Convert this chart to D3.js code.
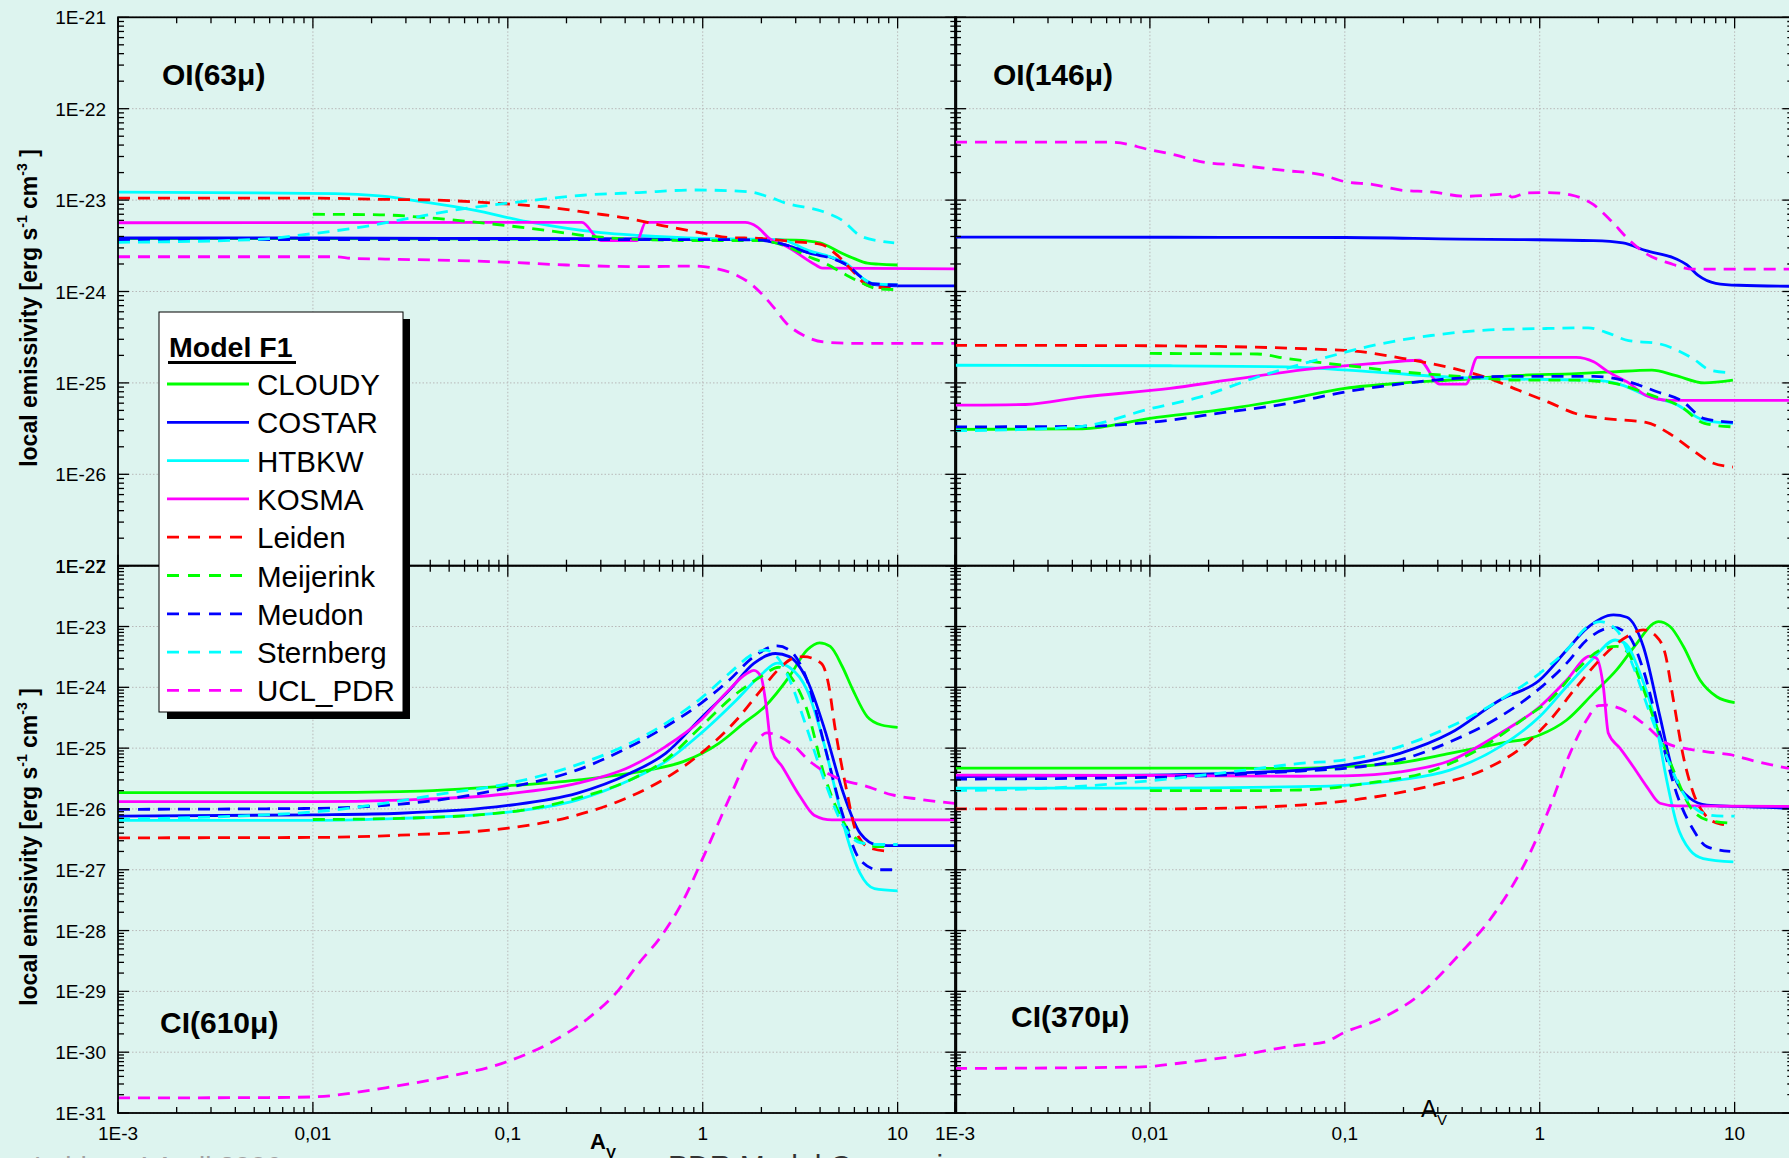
<!DOCTYPE html>
<html>
<head>
<meta charset="utf-8">
<script src="https://cdn.jsdelivr.net/npm/d3@7"></script>
<style>
  body { margin: 0; background: #ddf4ef; overflow: hidden; }
  svg { display: block; }
</style>
</head>
<body>
<div id="chart"></div>
<script>
// model list and line styles (legend order)
const models = ["CLOUDY", "COSTAR", "HTBKW", "KOSMA", "Leiden", "Meijerink", "Meudon", "Sternberg", "UCL_PDR"]
const modelColors = ["#00ff00", "#0000ff", "#00ffff", "#ff00ff", "#ff0000", "#00ff00", "#0000ff", "#00ffff", "#ff00ff"]
const modelDashed = [false, false, false, false, true, true, true, true, true]

// tick labels
const xTickValues = [1e-3, 1e-2, 1e-1, 1, 10]
const xTickLabels = ["1E-3", "0,01", "0,1", "1", "10"]
const yTopValues = [1e-27, 1e-26, 1e-25, 1e-24, 1e-23, 1e-22, 1e-21]
const yTopLabels = ["1E-27", "1E-26", "1E-25", "1E-24", "1E-23", "1E-22", "1E-21"]
const yBottomValues = [1e-31, 1e-30, 1e-29, 1e-28, 1e-27, 1e-26, 1e-25, 1e-24, 1e-23, 1e-22]
const yBottomLabels = ["1E-31", "1E-30", "1E-29", "1E-28", "1E-27", "1E-26", "1E-25", "1E-24", "1E-23", "1E-22"]

// OI 63 micron: [A_V, emissivity] per model
const oi63 = [
  [[0.001,3.8e-24],[0.01,3.8e-24],[0.1,3.75e-24],[1,3.7e-24],[2,3.7e-24],[3,3.65e-24],[4,3.4e-24],[5,2.72e-24],[6,2.29e-24],[7,2.04e-24],[8,1.99e-24],[10,1.95e-24]],
  [[0.001,3.85e-24],[0.01,3.85e-24],[0.1,3.8e-24],[1,3.75e-24],[1.8,3.7e-24],[2.7,3.2e-24],[3.6,2.6e-24],[4.6,2.35e-24],[5.5,1.95e-24],[6.6,1.39e-24],[7.4,1.2e-24],[10,1.15e-24],[20,1.15e-24]],
  [[0.001,1.22e-23],[0.005,1.2e-23],[0.013,1.18e-23],[0.022,1.11e-23],[0.04,9.3e-24],[0.066,7.8e-24],[0.126,5.8e-24],[0.3,4.4e-24],[0.47,4.1e-24],[1,3.8e-24],[2.5,3.7e-24],[3.5,2.8e-24],[4.5,2.4e-24],[5.5,2.0e-24],[6.6,1.4e-24],[7.5,1.22e-24],[10,1.18e-24]],
  [[0.001,5.65e-24],[0.24,5.7e-24],[0.3,3.6e-24],[0.46,3.6e-24],[0.51,5.7e-24],[1.65,5.7e-24],[1.9,5.1e-24],[2.2,3.8e-24],[2.7,3.1e-24],[3.8,1.95e-24],[4.1,1.8e-24],[20,1.77e-24]],
  [[0.001,1.05e-23],[0.01,1.05e-23],[0.022,1.02e-23],[0.043,1.0e-23],[0.082,9.3e-24],[0.165,8.3e-24],[0.27,7.2e-24],[0.4,6.4e-24],[0.64,5.2e-24],[1.03,4.3e-24],[1.35,3.9e-24],[2,3.8e-24],[3,3.5e-24],[4,3.3e-24],[5,2.4e-24],[6,1.6e-24],[7,1.17e-24],[10,1.07e-24]],
  [[0.01,7.0e-24],[0.022,6.9e-24],[0.043,6.3e-24],[0.082,5.5e-24],[0.165,4.6e-24],[0.27,4.0e-24],[0.5,3.7e-24],[1,3.6e-24],[2,3.6e-24],[2.7,3.1e-24],[3.5,2.4e-24],[4.1,2.1e-24],[5.5,1.5e-24],[6.6,1.23e-24],[7.9,1.07e-24],[10,1.05e-24]],
  [[0.001,3.7e-24],[0.01,3.7e-24],[0.1,3.7e-24],[1,3.7e-24],[2,3.65e-24],[2.7,3.2e-24],[3.6,2.6e-24],[4.6,2.3e-24],[5.5,1.95e-24],[6.6,1.4e-24],[7.4,1.22e-24],[10,1.18e-24]],
  [[0.001,3.45e-24],[0.005,3.7e-24],[0.01,4.3e-24],[0.018,5.1e-24],[0.031,6.3e-24],[0.054,7.8e-24],[0.126,9.8e-24],[0.243,1.13e-23],[0.47,1.21e-23],[0.91,1.29e-23],[1.75,1.23e-23],[2.16,1.09e-23],[2.7,9.2e-24],[4.17,7.45e-24],[5.2,6.0e-24],[6.4,4.1e-24],[8.2,3.55e-24],[9.6,3.4e-24]],
  [[0.001,2.4e-24],[0.013,2.4e-24],[0.016,2.3e-24],[0.022,2.27e-24],[0.1,2.09e-24],[0.2,1.95e-24],[0.47,1.87e-24],[0.91,1.9e-24],[1.1,1.83e-24],[1.5,1.5e-24],[1.75,1.23e-24],[2.0,9.5e-25],[2.3,6.8e-25],[2.7,4.45e-25],[3.3,3.3e-25],[4.2,2.8e-25],[6.4,2.7e-25],[20,2.7e-25]]
]

// OI 146 micron
const oi146 = [
  [[0.001,3.1e-26],[0.0045,3.15e-26],[0.01,4.1e-26],[0.025,5.2e-26],[0.05,6.6e-26],[0.1,8.7e-26],[0.2,1.0e-25],[0.39,1.09e-25],[0.78,1.21e-25],[1.54,1.26e-25],[2.33,1.32e-25],[3.76,1.38e-25],[4.95,1.21e-25],[7,1.0e-25],[9.8,1.07e-25]],
  [[0.001,3.94e-24],[0.0127,3.92e-24],[0.1,3.9e-24],[0.39,3.75e-24],[0.78,3.7e-24],[1.89,3.6e-24],[2.67,3.4e-24],[3.51,2.8e-24],[4.95,2.3e-24],[5.7,1.95e-24],[6.5,1.5e-24],[8,1.23e-24],[10.5,1.17e-24],[20,1.14e-24]],
  [[0.001,1.56e-25],[0.0127,1.54e-25],[0.05,1.5e-25],[0.14,1.32e-25],[0.39,1.14e-25],[0.78,1.1e-25],[1.89,1.07e-25],[2.67,9.4e-26],[3.51,7.3e-26],[4.95,5.9e-26],[7,3.9e-26],[9.8,3.6e-26]],
  [[0.001,5.7e-26],[0.0023,5.8e-26],[0.0045,7.0e-26],[0.0127,8.7e-26],[0.025,1.07e-25],[0.071,1.44e-25],[0.14,1.63e-25],[0.241,1.77e-25],[0.307,9.7e-26],[0.418,9.7e-26],[0.479,1.9e-25],[1.54,1.9e-25],[1.89,1.7e-25],[2.25,1.32e-25],[2.86,1.0e-25],[3.51,7.3e-26],[4.62,6.45e-26],[20,6.45e-26]],
  [[0.001,2.58e-25],[0.01,2.55e-25],[0.1,2.27e-25],[0.197,1.86e-25],[0.39,1.38e-25],[0.55,1.12e-25],[0.78,8.3e-26],[1.1,6.2e-26],[1.54,4.6e-26],[2.17,4.07e-26],[3.51,3.7e-26],[4.62,2.8e-26],[6.1,1.83e-26],[7.5,1.36e-26],[9.8,1.2e-26]],
  [[0.01,2.1e-25],[0.0356,2.07e-25],[0.05,1.85e-25],[0.1,1.56e-25],[0.197,1.32e-25],[0.39,1.18e-25],[0.78,1.07e-25],[1.54,1.07e-25],[2.33,1.0e-25],[3.76,7.3e-26],[5.3,5.5e-26],[7,3.6e-26],[9.8,3.3e-26]],
  [[0.001,3.3e-26],[0.0045,3.35e-26],[0.01,3.7e-26],[0.025,4.8e-26],[0.05,5.9e-26],[0.1,7.95e-26],[0.197,9.8e-26],[0.39,1.13e-25],[0.78,1.18e-25],[1.89,1.18e-25],[2.86,1.03e-25],[4.03,7.95e-26],[5.3,6.45e-26],[7,4.07e-26],[9.8,3.7e-26]],
  [[0.001,3.0e-26],[0.0023,3.1e-26],[0.0045,3.35e-26],[0.01,5.2e-26],[0.018,7.0e-26],[0.0356,1.16e-25],[0.071,1.77e-25],[0.14,2.57e-25],[0.277,3.3e-25],[0.55,3.8e-25],[1.1,3.94e-25],[1.77,4.0e-25],[2.17,3.6e-25],[2.86,2.9e-25],[4.03,2.7e-25],[6.1,1.85e-25],[7.5,1.38e-25],[9.8,1.29e-25]],
  [[0.001,4.3e-23],[0.0064,4.3e-23],[0.01,3.55e-23],[0.0136,3.1e-23],[0.0179,2.65e-23],[0.0289,2.4e-23],[0.05,2.1e-23],[0.0756,1.9e-23],[0.099,1.6e-23],[0.14,1.48e-23],[0.197,1.28e-23],[0.277,1.23e-23],[0.418,1.1e-23],[0.552,1.13e-23],[0.68,1.17e-23],[0.72,1.08e-23],[0.86,1.2e-23],[1.1,1.21e-23],[1.44,1.14e-23],[1.89,8.9e-24],[2.33,5.9e-24],[2.86,3.7e-24],[3.51,2.6e-24],[4.62,2.04e-24],[6.1,1.76e-24],[20,1.76e-24]]
]

// CI 610 micron
const ci610 = [
  [[0.001,1.85e-26],[0.01,1.85e-26],[0.028,1.92e-26],[0.1,2.4e-26],[0.226,2.98e-26],[0.523,4.35e-26],[0.794,6.0e-26],[1.21,1.2e-25],[1.62,2.55e-25],[2.08,4.8e-25],[2.78,1.5e-24],[3.43,4.1e-24],[3.97,5.4e-24],[4.51,4.7e-24],[5.2,2.2e-24],[5.9,9.0e-25],[6.98,3.3e-25],[8.26,2.4e-25],[10,2.2e-25]],
  [[0.001,7.6e-27],[0.01,8.0e-27],[0.028,8.5e-27],[0.098,1.13e-26],[0.226,1.8e-26],[0.424,3.85e-26],[0.645,8.2e-26],[0.979,3.1e-25],[1.37,9.0e-25],[1.83,2.48e-24],[2.36,3.6e-24],[2.78,3.2e-24],[3.43,1.32e-24],[4.23,2.0e-25],[5.2,2.05e-26],[6.42,4.0e-27],[7.92,2.55e-27],[10,2.5e-27],[20,2.5e-27]],
  [[0.001,6.5e-27],[0.01,6.5e-27],[0.028,7.0e-27],[0.098,8.8e-27],[0.226,1.4e-26],[0.424,3.0e-26],[0.645,6.0e-26],[0.979,1.75e-25],[1.49,6.2e-25],[1.99,1.6e-24],[2.41,2.5e-24],[2.78,2.14e-24],[3.43,9.0e-25],[4.23,1.06e-25],[4.79,2.05e-26],[5.43,4.0e-27],[6.42,8.7e-28],[7.6,4.9e-28],[10,4.5e-28]],
  [[0.001,1.32e-26],[0.01,1.32e-26],[0.028,1.4e-26],[0.098,1.76e-26],[0.226,2.63e-26],[0.424,4.95e-26],[0.645,1.06e-25],[0.979,2.9e-25],[1.31,7.95e-25],[1.69,1.7e-24],[1.83,1.9e-24],[1.99,1.5e-24],[2.12,4.8e-25],[2.26,9.3e-26],[2.56,4.95e-26],[3.16,1.6e-26],[3.73,7.9e-27],[4.6,6.6e-27],[20,6.6e-27]],
  [[0.001,3.35e-27],[0.01,3.4e-27],[0.028,3.7e-27],[0.098,4.8e-27],[0.226,7.9e-27],[0.424,1.6e-26],[0.645,3.2e-26],[0.979,8.2e-26],[1.49,2.9e-25],[1.99,9.0e-25],[2.46,2.0e-24],[2.9,3.0e-24],[3.29,3.2e-24],[4.06,2.48e-24],[4.41,1.17e-24],[4.79,2.0e-25],[5.43,2.3e-26],[6.16,4.0e-27],[7.28,2.25e-27],[9.37,2.0e-27]],
  [[0.01,6.7e-27],[0.028,7.0e-27],[0.098,8.8e-27],[0.226,1.5e-26],[0.424,3.0e-26],[0.645,6.4e-26],[0.979,2.25e-25],[1.49,7.9e-25],[1.99,1.5e-24],[2.46,2.14e-24],[2.78,1.6e-24],[3.43,4.25e-25],[4.23,3.4e-26],[5.2,6.6e-27],[6.42,2.9e-27],[7.92,2.4e-27],[9.37,2.4e-27]],
  [[0.001,9.85e-27],[0.01,1.02e-26],[0.0236,1.15e-26],[0.044,1.4e-26],[0.098,2.2e-26],[0.226,4.35e-26],[0.424,1.06e-25],[0.645,2.25e-25],[0.979,5.45e-25],[1.37,1.32e-24],[1.83,3.2e-24],[2.41,4.8e-24],[2.78,4.1e-24],[3.43,1.32e-24],[4.23,1.06e-25],[5.2,8.5e-27],[6.42,1.45e-27],[7.92,1.0e-27],[9.37,1.0e-27]],
  [[0.001,6.8e-27],[0.01,8.9e-27],[0.0236,1.25e-26],[0.044,1.73e-26],[0.098,2.57e-26],[0.226,5.3e-26],[0.424,1.2e-25],[0.645,2.55e-25],[0.979,6.6e-25],[1.37,1.7e-24],[1.83,3.6e-24],[2.08,4.1e-24],[2.4,3.2e-24],[2.8,1.3e-24],[3.4,2.25e-25],[4.2,3.0e-26],[5.2,5.7e-27],[6.4,2.8e-27],[7.9,2.6e-27],[10,2.6e-27]],
  [[0.001,1.77e-31],[0.0066,1.8e-31],[0.01,1.84e-31],[0.0236,2.6e-31],[0.044,3.7e-31],[0.098,6.9e-31],[0.176,1.6e-30],[0.264,3.8e-30],[0.37,1.05e-29],[0.47,2.9e-29],[0.6,7.4e-29],[0.78,2.8e-28],[1.03,1.9e-27],[1.41,1.85e-26],[1.82,1.05e-25],[2.13,1.78e-25],[2.83,1.2e-25],[3.63,5.7e-26],[4.97,3.15e-26],[6.8,2.4e-26],[9.4,1.7e-26],[12.8,1.45e-26],[19.6,1.23e-26]]
]

// CI 370 micron
const ci370 = [
  [[0.001,4.7e-26],[0.01,4.7e-26],[0.059,4.65e-26],[0.1,4.95e-26],[0.192,5.75e-26],[0.346,8.2e-26],[0.626,1.2e-25],[1,1.64e-25],[1.376,2.9e-25],[1.885,7.95e-25],[2.48,1.93e-24],[3.15,5.3e-24],[3.83,1.12e-23],[4.06,1.2e-23],[4.66,1.0e-23],[5.46,4.7e-24],[6.64,1.32e-24],[8.1,7.0e-25],[10,5.6e-25]],
  [[0.001,3.4e-26],[0.01,3.6e-26],[0.059,4.36e-26],[0.1,5.25e-26],[0.192,8.2e-26],[0.346,1.75e-25],[0.626,6.2e-25],[1,1.32e-24],[1.376,4.1e-24],[1.742,9.3e-24],[2.39,1.55e-23],[2.8,1.42e-23],[3.4,4.7e-24],[4.14,3.3e-25],[4.85,3.85e-26],[5.9,1.5e-26],[7.2,1.16e-26],[10,1.1e-26],[20,1.03e-26]],
  [[0.001,2.2e-26],[0.01,2.2e-26],[0.059,2.33e-26],[0.1,2.45e-26],[0.192,3.0e-26],[0.346,4.36e-26],[0.626,1.06e-25],[1,3.3e-25],[1.376,1.03e-24],[1.885,3.0e-24],[2.44,6.0e-24],[2.74,5.3e-24],[3.27,1.7e-24],[3.98,2.24e-25],[4.48,3.0e-26],[5.04,5.75e-27],[5.9,2.1e-27],[6.9,1.53e-27],[9.85,1.35e-27]],
  [[0.001,3.6e-26],[0.01,3.55e-26],[0.059,3.45e-26],[0.1,3.5e-26],[0.192,4.07e-26],[0.346,6.2e-26],[0.626,1.75e-25],[1,4.8e-25],[1.376,1.32e-24],[1.81,3.27e-24],[1.96,3.0e-24],[2.12,1.03e-24],[2.25,1.75e-25],[2.58,1.0e-25],[3.02,4.95e-26],[3.54,2.33e-26],[4.14,1.24e-26],[5.04,1.12e-26],[20,1.1e-26]],
  [[0.001,1.0e-26],[0.01,1.0e-26],[0.03,1.05e-26],[0.059,1.16e-26],[0.129,1.5e-26],[0.285,2.47e-26],[0.514,4.36e-26],[0.858,1.2e-25],[1.13,2.9e-25],[1.55,1.03e-24],[1.96,2.5e-24],[2.39,4.7e-24],[2.9,7.25e-24],[3.4,8.8e-24],[3.98,6.8e-24],[4.4,3.6e-24],[4.85,6.2e-25],[5.46,7.2e-26],[6.15,1.8e-26],[7.2,7.4e-27],[8.4,5.7e-27],[9.65,5.4e-27]],
  [[0.01,2.0e-26],[0.03,2.0e-26],[0.059,2.05e-26],[0.129,2.63e-26],[0.285,4.36e-26],[0.514,1.06e-25],[0.858,3.3e-25],[1.13,6.2e-25],[1.55,1.93e-24],[2.04,4.1e-24],[2.48,4.7e-24],[2.8,3.9e-24],[3.27,1.32e-24],[3.98,2.24e-25],[4.85,4.36e-26],[5.9,1.1e-26],[7.2,6.6e-27],[9.85,5.8e-27]],
  [[0.001,3.1e-26],[0.01,3.3e-26],[0.059,4.2e-26],[0.1,4.65e-26],[0.192,6.4e-26],[0.346,1.27e-25],[0.626,3.3e-25],[1,9.6e-25],[1.376,2.5e-24],[1.742,6.0e-24],[2.39,9.7e-24],[2.85,7.2e-24],[3.4,1.93e-24],[4.14,1.75e-25],[5.04,1.8e-26],[6.15,4.5e-27],[7.2,2.4e-27],[9.5,2.0e-27]],
  [[0.001,2.0e-26],[0.003,2.2e-26],[0.01,2.9e-26],[0.03,4.3e-26],[0.059,5.6e-26],[0.1,6.4e-26],[0.192,1.06e-25],[0.346,2.24e-25],[0.626,6.2e-25],[1,1.7e-24],[1.376,4.1e-24],[1.742,9.7e-24],[2.04,1.2e-23],[2.48,8.8e-24],[3.02,2.2e-24],[3.68,3.7e-25],[4.48,7.2e-26],[5.46,1.8e-26],[6.64,9.0e-27],[8.1,7.7e-27],[10,7.6e-27]],
  [[0.001,5.4e-31],[0.0087,5.7e-31],[0.0148,6.7e-31],[0.029,8.9e-31],[0.057,1.3e-30],[0.079,1.47e-30],[0.099,2.1e-30],[0.154,3.6e-30],[0.248,9.4e-30],[0.32,2.1e-29],[0.42,5.4e-29],[0.52,1.15e-28],[0.61,2.3e-28],[0.89,1.86e-27],[1.13,1.1e-26],[1.43,8.2e-26],[1.74,2.9e-25],[2.0,5.0e-25],[2.2,5.1e-25],[2.58,4.5e-25],[3.4,2.55e-25],[4.48,1.2e-25],[5.46,1.0e-25],[7.2,8.7e-26],[9.5,7.8e-26],[13,6.0e-26],[19,4.65e-26]]
]

const W = 1789, H = 1158
const FONT = "'Liberation Sans', Arial, sans-serif"

const svg = d3.select('#chart')
  .append('svg')
  .attr('width', W)
  .attr('height', H)
  .style('background-color', '#ddf4ef')
  .style('font-family', FONT)

// column / row pixel ranges
const colRange = [[118, 956.3], [955, 1793.3]]
const rowRange = [[565.7, 17.3], [1113, 565.7]]
const rowDomain = [[1e-27, 1e-21], [1e-31, 1e-22]]

const panels = [
  { series: oi63, name: 'OI(63μ)', col: 0, row: 0, lx: 162, ly: 85 },
  { series: oi146, name: 'OI(146μ)', col: 1, row: 0, lx: 993, ly: 85 },
  { series: ci610, name: 'CI(610μ)', col: 0, row: 1, lx: 160, ly: 1033 },
  { series: ci370, name: 'CI(370μ)', col: 1, row: 1, lx: 1011, ly: 1027 },
]

const isDecade = (v) => Math.abs(Math.log10(v) - Math.round(Math.log10(v))) < 1e-6

panels.forEach((p, pi) => {
  const [x0, x1] = colRange[p.col]
  const [y0, y1] = rowRange[p.row]
  const x = d3.scaleLog().domain([1e-3, 20]).range([x0, x1])
  const y = d3.scaleLog().domain(rowDomain[p.row]).range([y0, y1])
  const g = svg.append('g')

  g.append('clipPath').attr('id', 'clip' + pi)
    .append('rect').attr('x', x0).attr('y', y1).attr('width', x1 - x0).attr('height', y0 - y1)

  const xt = x.ticks(60)
  const yt = y.ticks(90)

  // dotted grid at decades
  g.selectAll('.gx').data(xt.filter((v) => isDecade(v) && v > 1e-3)).enter()
    .append('line')
    .attr('x1', (d) => x(d)).attr('x2', (d) => x(d))
    .attr('y1', y1).attr('y2', y0)
    .attr('stroke', '#b8b8b8').attr('stroke-width', 1).attr('stroke-dasharray', '1.5,2')
  g.selectAll('.gy').data(yt.filter((v) => isDecade(v))).enter()
    .append('line')
    .attr('y1', (d) => y(d)).attr('y2', (d) => y(d))
    .attr('x1', x0).attr('x2', x1)
    .attr('stroke', '#b8b8b8').attr('stroke-width', 1).attr('stroke-dasharray', '1.5,2')

  // curves
  const line = d3.line()
    .x((d) => x(d[0]))
    .y((d) => y(d[1]))
    .curve(d3.curveMonotoneX)

  const curves = g.append('g').attr('clip-path', `url(#clip${pi})`)
  p.series.forEach((s, i) => {
    curves.append('path')
      .attr('d', line(s))
      .attr('fill', 'none')
      .attr('stroke', modelColors[i])
      .attr('stroke-width', 2.8)
      .attr('stroke-dasharray', modelDashed[i] ? '12,8' : null)
      .attr('stroke-linejoin', 'round')
  })

  // frame
  g.append('rect')
    .attr('x', x0).attr('y', y1).attr('width', x1 - x0).attr('height', y0 - y1)
    .attr('fill', 'none').attr('stroke', '#000').attr('stroke-width', 1.8)

  // inward ticks on all four sides
  const ticks = g.append('g').attr('stroke', '#000').attr('stroke-width', 1.3)
  xt.forEach((v) => {
    const len = isDecade(v) ? 11 : 6
    ticks.append('line').attr('x1', x(v)).attr('x2', x(v)).attr('y1', y1).attr('y2', y1 + len)
    ticks.append('line').attr('x1', x(v)).attr('x2', x(v)).attr('y1', y0).attr('y2', y0 - len)
  })
  yt.forEach((v) => {
    const len = isDecade(v) ? 11 : 6
    ticks.append('line').attr('y1', y(v)).attr('y2', y(v)).attr('x1', x0).attr('x2', x0 + len)
    ticks.append('line').attr('y1', y(v)).attr('y2', y(v)).attr('x1', x1).attr('x2', x1 - len)
  })

  // y tick labels on the left column only
  if (p.col === 0) {
    const vals = p.row === 0 ? yTopValues : yBottomValues
    const labs = p.row === 0 ? yTopLabels : yBottomLabels
    g.selectAll('.yl').data(vals).enter()
      .append('text')
      .attr('x', 106)
      .attr('y', (d) => y(d) + 7)
      .attr('text-anchor', 'end')
      .attr('font-size', '19px')
      .text((d, i) => labs[i])
  }
  // x tick labels on bottom row only
  if (p.row === 1) {
    g.selectAll('.xl').data(xTickValues).enter()
      .append('text')
      .attr('x', (d) => x(d))
      .attr('y', 1140)
      .attr('text-anchor', 'middle')
      .attr('font-size', '19px')
      .text((d, i) => xTickLabels[i])
  }

  g.append('text')
    .attr('x', p.lx).attr('y', p.ly)
    .attr('font-size', '30px').attr('font-weight', 'bold')
    .text(p.name)
})

// y axis titles
;[308, 847].forEach((cy) => {
  const t = svg.append('text')
    .attr('transform', `translate(37, ${cy}) rotate(-90)`)
    .attr('text-anchor', 'middle')
    .attr('font-size', '23px')
    .attr('font-weight', 'bold')
  t.append('tspan').text('local emissivity [erg s')
  t.append('tspan').attr('font-size', '14px').attr('dy', -10).text('-1')
  t.append('tspan').attr('dy', 10).text(' cm')
  t.append('tspan').attr('font-size', '14px').attr('dy', -10).text('-3')
  t.append('tspan').attr('dy', 10).text(' ]')
})

// A_V labels
const av1 = svg.append('text').attr('x', 590).attr('y', 1149)
  .attr('font-size', '22px').attr('font-weight', 'bold')
av1.append('tspan').text('A')
av1.append('tspan').attr('font-size', '15px').attr('dy', 9).text('V')

const av2 = svg.append('text').attr('x', 1421).attr('y', 1117)
  .attr('font-size', '24px')
av2.append('tspan').text('A')
av2.append('tspan').attr('font-size', '15px').attr('dy', 8).text('V')

// footer text, cut off by the page edge
svg.append('text').attr('x', 34).attr('y', 1176)
  .attr('font-size', '28px').attr('fill', '#a0a0a0')
  .text('Leiden, 4 April 2006')
svg.append('text').attr('x', 668).attr('y', 1176)
  .attr('font-size', '30px').attr('fill', '#333')
  .text('PDR Model Comparison')

// legend
const legend = svg.append('g')
legend.append('rect').attr('x', 167).attr('y', 319).attr('width', 243).attr('height', 400).attr('fill', '#000')
legend.append('rect').attr('x', 159).attr('y', 312).attr('width', 244).attr('height', 400)
  .attr('fill', '#fff').attr('stroke', '#000').attr('stroke-width', 1)
legend.append('text').attr('x', 169).attr('y', 357)
  .attr('font-size', '28.5px').attr('font-weight', 'bold').text('Model F1')
legend.append('rect').attr('x', 168).attr('y', 361).attr('width', 128).attr('height', 3).attr('fill', '#000')

const rows = legend.selectAll('.row').data(models).enter()
  .append('g')
  .attr('transform', (d, i) => `translate(0, ${384 + i * 38.3})`)
rows.append('line')
  .attr('x1', 167).attr('x2', (d, i) => modelDashed[i] ? 242 : 249)
  .attr('y1', 0).attr('y2', 0)
  .attr('stroke', (d, i) => modelColors[i])
  .attr('stroke-width', 2.8)
  .attr('stroke-dasharray', (d, i) => modelDashed[i] ? '12,9' : null)
rows.append('text')
  .attr('x', 257).attr('y', 11)
  .attr('font-size', '29.5px')
  .text((d) => d)
</script>
</body>
</html>
